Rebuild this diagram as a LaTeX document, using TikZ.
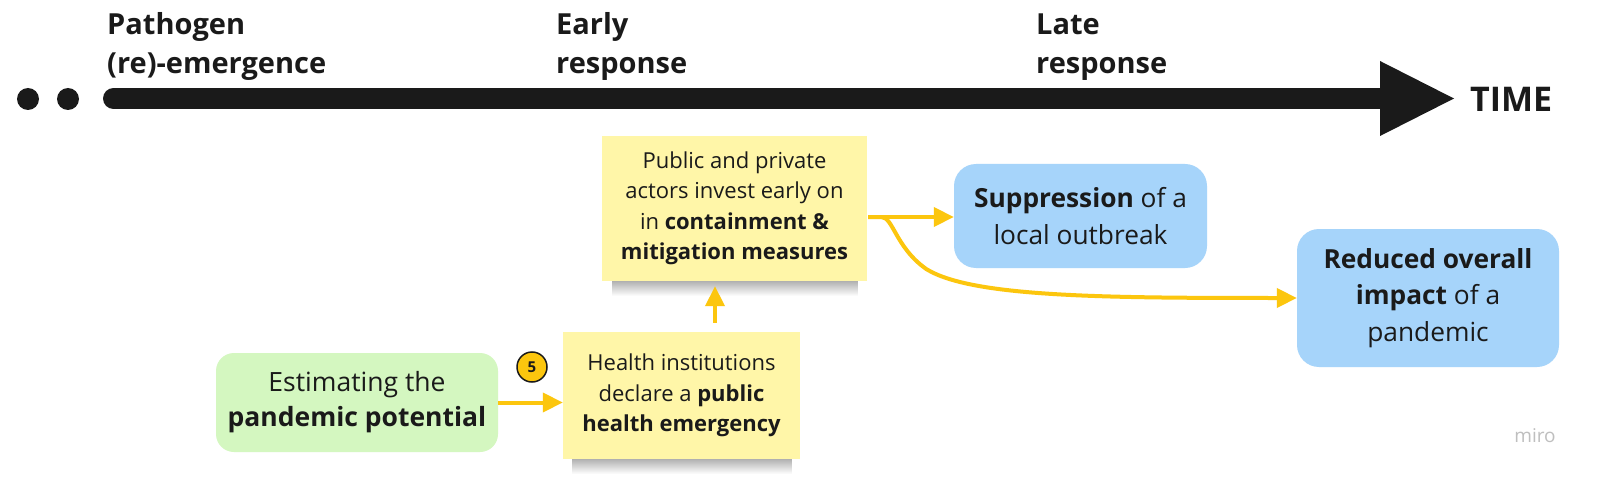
\documentclass[tikz,border=0pt]{standalone}
\usepackage{fontspec}
\setmainfont{Open Sans}
\usetikzlibrary{arrows.meta,fadings,calc}
\definecolor{stickyY}{HTML}{FFF6A8}
\definecolor{greenB}{HTML}{D4F7C0}
\definecolor{blueB}{HTML}{A6D4FA}
\definecolor{arrowY}{HTML}{FCC60E}
\definecolor{barK}{HTML}{1A1A1A}
\tikzset{
  toplabel/.style={anchor=base west,align=left,font=\fontsize{29}{39}\selectfont\bfseries,text=barK,inner sep=0},
  sticky/.style={fill=stickyY,align=center,font=\fontsize{22}{30.5}\selectfont,inner sep=0,text=barK},
  greenbox/.style={fill=greenB,rounded corners=18,align=center,font=\fontsize{26.5}{35}\selectfont,inner sep=0,text=barK},
  bluebox/.style={fill=blueB,rounded corners=22,align=center,font=\fontsize{26.3}{36.5}\selectfont,inner sep=0,text=barK},
  yarrow/.style={draw=arrowY,line width=4pt,-{Triangle[length=20pt,width=19pt]}},
}
\begin{document}
\begin{tikzpicture}[x=1pt,y=-1pt]
\useasboundingbox (0,0) rectangle (1600,481);
\fill[white] (0,0) rectangle (1600,481);
% timeline
\fill[barK] (28,99) circle (11);
\fill[barK] (68,99) circle (11);
\draw[barK,line width=21pt,line cap=round] (113.5,98.5) -- (1384,98.5);
\fill[barK] (1380,61) -- (1454,98.5) -- (1380,136) -- cycle;
\node[anchor=west,font=\fontsize{34}{34}\selectfont\bfseries,text=barK,inner sep=0] (time) at (1470,99) {TIME};
\node[toplabel] (l1) at (107,74) {Pathogen\\(re)-emergence};
\node[toplabel] (l2) at (556,74) {Early\\response};
\node[toplabel] (l3) at (1036,74) {Late\\response};
% shadows
\fill[black,opacity=0.35,path fading=south] (612,279) rectangle (858,296);
\fill[black,opacity=0.35,path fading=south] (572,457) rectangle (792,474);
% boxes
\node[sticky,minimum width=265,minimum height=145] (y1) at (734.5,208.5) {Public and private\\actors invest early on\\in \textbf{containment \&}\\\textbf{mitigation measures}};
\node[sticky,minimum width=237,minimum height=127] (y2) at (681.5,395.5) {Health institutions\\declare a \textbf{public}\\\textbf{health emergency}};
\node[greenbox,minimum width=282,minimum height=99] (g) at (357,402.5) {Estimating the\\\textbf{pandemic potential}};
\node[bluebox,minimum width=253,minimum height=104] (b1) at (1080.5,216) {\textbf{Suppression} of a\\local outbreak};
\node[bluebox,minimum width=262,minimum height=138] (b2) at (1428,298) {\textbf{Reduced overall}\\\textbf{impact} of a\\pandemic};
% badge
\node[circle,fill=arrowY,draw=barK,line width=1.5pt,minimum size=30,inner sep=0,font=\fontsize{15}{15}\selectfont\bfseries,text=barK] (badge) at (532,367) {5};
% connectors
\draw[yarrow] (g.east) -- (g.east -| y2.west);
\coordinate (upA) at ($(y2.north)+(33.5,-9)$);
\coordinate (upB) at ($(y1.south)+(-19.5,5)$);
\draw[yarrow] (upA) -- (upA |- upB);
\coordinate (start) at ($(y1.east)+(1,8.5)$);
\coordinate (fork) at ($(y1.east)+(14,8.5)$);
\draw[yarrow] (start) -- (b1.west |- fork);
\draw[yarrow] (start) -- (fork) .. controls ($(fork)+(12,0)$) and ($(fork)+(14,30)$) .. ($(fork)+(45,52)$) .. controls ($(fork)+(90,80)$) and ($(fork)+(220,81)$) .. (b2.west);
% watermark
\node[font=\fontsize{19}{19}\selectfont,text=black!25,inner sep=0] (miro) at (1535,436) {miro};
\end{tikzpicture}
\end{document}
